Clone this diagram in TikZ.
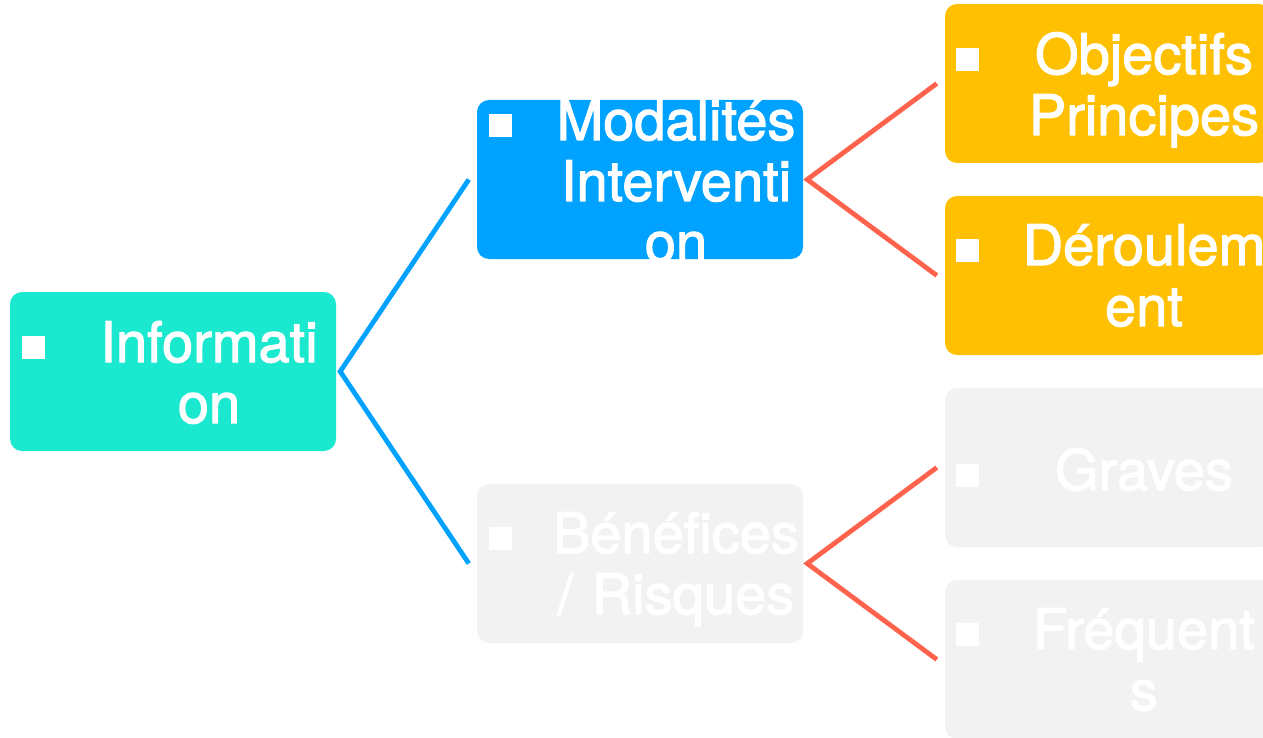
\documentclass[tikz,border=0pt]{standalone}
\usepackage{fontspec}
\setmainfont[FakeBold=2]{TeX Gyre Heros}
\definecolor{tealbox}{RGB}{26,232,207}
\definecolor{bluebox}{RGB}{0,162,255}
\definecolor{orangebox}{RGB}{254,192,0}
\definecolor{graybox}{RGB}{242,242,242}
\definecolor{redline}{RGB}{255,99,77}
\tikzset{
  box/.style={rectangle, rounded corners=12pt, minimum width=326pt, minimum height=159pt, inner sep=0pt, fill=#1},
  txt/.style={text=white, font=\fontsize{56}{61}\selectfont, text width=320pt, align=center, inner sep=0pt, anchor=base},
  bul/.style={rectangle, fill=white, minimum size=23pt, inner sep=0pt},
  blueconn/.style={draw=bluebox, line width=4.8pt, line join=miter},
  redconn/.style={draw=redline, line width=4.8pt, line join=miter}
}
\begin{document}
\begin{tikzpicture}[x=1pt,y=-1pt]
\useasboundingbox (0,0) rectangle (1263,738);
% boxes
\node[box=tealbox] (info) at (173,371.5) {};
\node[box=bluebox] (mod) at (640,179.5) {};
\node[box=graybox] (ben) at (640,563.5) {};
\node[box=orangebox] (obj) at (1108,83.5) {};
\node[box=orangebox] (der) at (1108,275.5) {};
\node[box=graybox] (gra) at (1108,467.5) {};
\node[box=graybox] (fre) at (1108,659.5) {};
% connectors
\draw[blueconn] ([xshift=-8pt]mod.west) -- ([xshift=4pt]info.east) -- ([xshift=-8pt]ben.west);
\draw[redconn] ([xshift=-8pt]obj.west) -- ([xshift=4pt]mod.east) -- ([xshift=-8pt]der.west);
\draw[redconn] ([xshift=-8pt]gra.west) -- ([xshift=4pt]ben.east) -- ([xshift=-8pt]fre.west);
% bullets
\node[bul] (infob) at (33.5,347.5) {};
\node[bul] (modb) at (500.5,125.5) {};
\node[bul] (benb) at (500.5,538.5) {};
\node[bul] (objb) at (967.5,59.5) {};
\node[bul] (derb) at (967.5,250.5) {};
\node[bul] (grab) at (967.5,475.5) {};
\node[bul] (freb) at (967.5,634.5) {};
% texts
\node[txt] (infot) at (209,362) {Informati\\on};
\node[txt] (modt) at (676,140) {Modalités\\Interventi\\on};
\node[txt] (bent) at (676,553) {Bénéfices\\/ Risques};
\node[txt] (objt) at (1144,74) {Objectifs\\Principes};
\node[txt] (dert) at (1144,265) {Déroulem\\ent};
\node[txt] (grat) at (1144,490) {Graves};
\node[txt] (fret) at (1144,649) {Fréquent\\s};
\end{tikzpicture}
\end{document}
